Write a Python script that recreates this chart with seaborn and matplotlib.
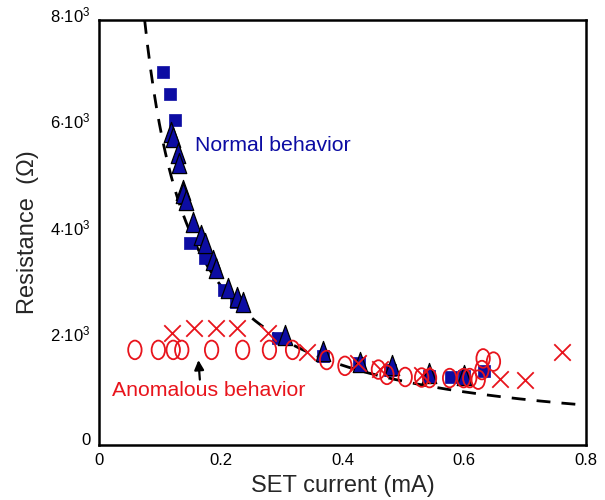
import numpy as np
import pandas as pd
import matplotlib
matplotlib.use("Agg")
import matplotlib.pyplot as plt
from matplotlib.path import Path
from matplotlib.markers import MarkerStyle
from matplotlib.transforms import ScaledTranslation
import seaborn as sns

# data: SET current (mA), resistance (Ohm)
sq_current = [0.1046, 0.1166, 0.1243, 0.1495, 0.174, 0.2053, 0.2243, 0.2946,
              0.3685, 0.4277, 0.478, 0.5426, 0.579, 0.600, 0.6324]
sq_res = [7016, 6600, 6120, 3800, 3515, 2920, 2700, 2010,
          1680, 1537, 1412, 1290, 1275, 1290, 1400]

tri_current = [0.119, 0.121, 0.130, 0.131, 0.1385, 0.1385, 0.143, 0.155, 0.1676,
               0.174, 0.188, 0.193, 0.2125, 0.226, 0.237, 0.3055, 0.3675,
               0.4288, 0.4808, 0.5426, 0.600]
tri_res = [5900, 5800, 5490, 5300, 4800, 4740, 4610, 4200, 3950,
           3800, 3480, 3330, 2950, 2790, 2700, 2070, 1770,
           1560, 1500, 1350, 1320]

circ_current = [0.059, 0.0975, 0.122, 0.136, 0.185, 0.236, 0.280, 0.318, 0.374,
                0.404, 0.459, 0.473, 0.503, 0.530, 0.543, 0.576, 0.599, 0.609,
                0.623, 0.629, 0.631, 0.648]
circ_res = [1790, 1790, 1790, 1790, 1790, 1790, 1790, 1790, 1600,
            1490, 1420, 1320, 1280, 1270, 1260, 1260, 1260, 1260,
            1230, 1410, 1630, 1570]

x_current = [0.1194, 0.156, 0.193, 0.226, 0.278, 0.341, 0.426, 0.462,
             0.530, 0.659, 0.700, 0.761]
x_res = [2100, 2200, 2200, 2200, 2100, 1760, 1540, 1440,
         1320, 1250, 1230, 1760]

# dashed fit R = K / I
fit_k = 600.0
fit_current = np.linspace(0.075, 0.8, 300)
fit_res = fit_k / fit_current

xticks = [0, 0.2, 0.4, 0.6, 0.8]
xticklabels = ["0", "0.2", "0.4", "0.6", "0.8"]
yticks = [0, 2000, 4000, 6000, 8000]
yticklabels = ["0", r"$2{\cdot}10^3$", r"$4{\cdot}10^3$", r"$6{\cdot}10^3$", r"$8{\cdot}10^3$"]

BLUE = "#0c0ca3"
RED = "#e8141c"

sns.set_style("white")
plt.rcParams["font.family"] = ["Liberation Sans", "DejaVu Sans"]
plt.rcParams["mathtext.fontset"] = "custom"
plt.rcParams["mathtext.rm"] = "Liberation Sans"
plt.rcParams["mathtext.it"] = "Liberation Sans"
plt.rcParams["mathtext.default"] = "rm"

fig = plt.figure(figsize=(6.05, 5.0), dpi=100)
ax = fig.add_axes([0.1636, 0.11, 0.805, 0.85])

# tall ellipse for the open circles
circ = Path.unit_circle()
ellipse = Path(circ.vertices * np.array([0.72, 1.0]), circ.codes)
# tall triangle
tri_path = Path([(-0.72, -1.0), (0.72, -1.0), (0.0, 1.0), (-0.72, -1.0)],
                [Path.MOVETO, Path.LINETO, Path.LINETO, Path.CLOSEPOLY])

sns.lineplot(x=fit_current, y=fit_res, ax=ax, color="black", lw=2.0,
             dashes=False, zorder=1)
ax.lines[-1].set_dashes([5, 4])

sns.scatterplot(x=sq_current, y=sq_res, ax=ax, marker="s", s=80,
                color=BLUE, edgecolor=BLUE, linewidth=0.5, zorder=3)
sns.scatterplot(x=tri_current, y=tri_res, ax=ax, marker=MarkerStyle(tri_path), s=210,
                color=BLUE, edgecolor="black", linewidth=0.9, zorder=3)
sns.scatterplot(x=circ_current, y=circ_res, ax=ax, marker=MarkerStyle(ellipse), s=180,
                facecolor="none", edgecolor=RED, linewidth=1.3, zorder=4)
sns.scatterplot(x=x_current, y=x_res, ax=ax, marker="x", s=140,
                color=RED, linewidth=1.3, zorder=4)

ax.text(0.157, 5640, "Normal behavior", color=BLUE, fontsize=15.3, va="center")
ax.text(0.022, 1030, "Anomalous behavior", color=RED, fontsize=15.3, va="center")
ax.annotate("", xy=(0.163, 1650), xytext=(0.166, 1180),
            arrowprops=dict(arrowstyle="-|>", color="black", lw=1.6,
                            mutation_scale=14))

ax.set_xlim(0, 0.8)
ax.set_ylim(0, 8000)
ax.set_xticks(xticks)
ax.set_xticklabels(xticklabels)
ax.set_yticks(yticks)
ax.set_yticklabels(yticklabels)
ax.tick_params(direction="in", length=5, width=1.6, labelsize=12,
               colors="black", pad=6)
# y tick labels sit a little above their ticks in the original
shift = ScaledTranslation(0, 6 / 100, fig.dpi_scale_trans)
for lab in ax.get_yticklabels():
    lab.set_transform(lab.get_transform() + shift)
ax.set_xlabel("SET current (mA)", fontsize=17, labelpad=5)
ax.set_ylabel("Resistance  (Ω)", fontsize=17, labelpad=8)
for sp in ax.spines.values():
    sp.set_visible(True)
    sp.set_color("black")
    sp.set_linewidth(1.8)

fig.savefig("out.png", dpi=100)
